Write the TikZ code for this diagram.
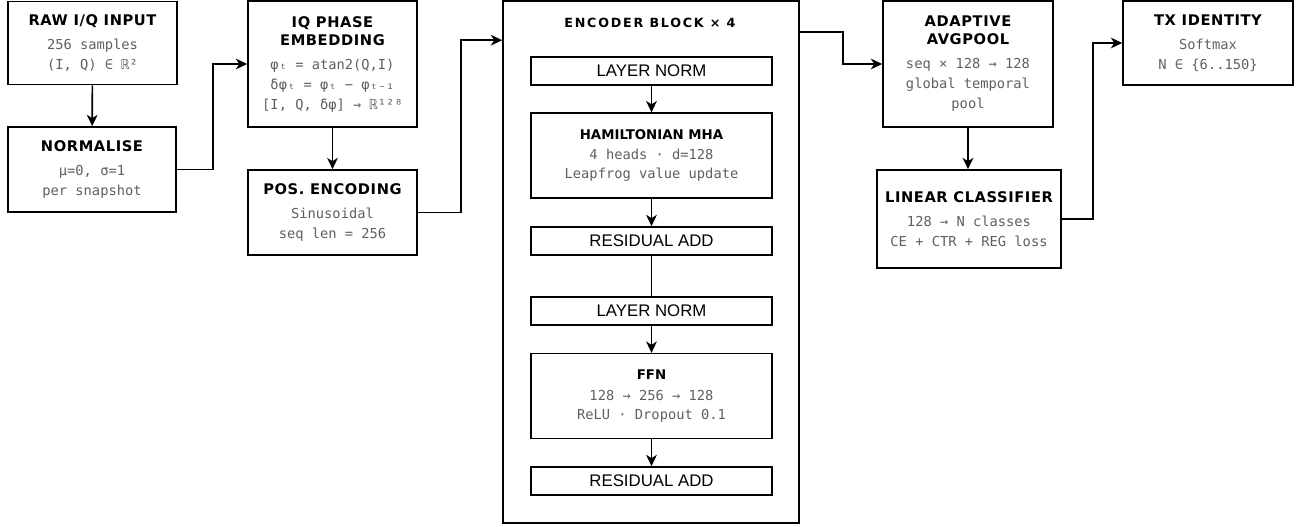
\documentclass[tikz,border=0pt]{standalone}
\usepackage{fontspec}
\usetikzlibrary{positioning,arrows.meta}
\newfontfamily\ttlfont[LetterSpace=4]{DejaVu Sans Bold}
\newfontfamily\enctfont[LetterSpace=14]{DejaVu Sans Bold}
\newfontfamily\itlfont{DejaVu Sans Bold}
\newfontfamily\monofont{DejaVu Sans Mono}
\newfontfamily\lblfont{Liberation Sans}
\definecolor{txtgray}{HTML}{5F5F5F}
\newcommand{\ttl}[1]{{\color{black}\ttlfont\fontsize{11}{13}\selectfont #1}}
\newcommand{\itl}[1]{{\color{black}\itlfont\fontsize{10}{12}\selectfont #1}}
\tikzset{
    blk/.style={draw, line width=1.2pt, align=center, inner sep=0pt, text=txtgray,
        font=\monofont\fontsize{10.3}{15}\selectfont},
    subblk/.style={blk, minimum width=180.75pt, minimum height=63.5pt,
        font=\monofont\fontsize{10.3}{14}\selectfont},
    sub/.style={draw, line width=1.2pt, minimum width=180.75pt, minimum height=21pt,
        inner sep=0pt, font=\lblfont\fontsize{12.6}{14}\selectfont},
    arr/.style={line width=1.2pt, -{Stealth[length=8.5pt,width=8pt,inset=2.5pt]}},
    con/.style={line width=1.2pt},
}
\begin{document}
\begin{tikzpicture}[x=0.75pt, y=-0.75pt]
    \useasboundingbox (0,0) rectangle (1304,527);

    % Input column
    \node[blk, minimum width=126.75pt, minimum height=62.25pt] (raw) at (92.5,43)
        {\ttl{RAW I/Q INPUT}\\[3pt] 256 samples\\ (I, Q) ∈ ℝ²};
    \node[blk, minimum width=126pt, minimum height=63.75pt] (norm) at (92,169.5)
        {\ttl{NORMALISE}\\[3pt] μ=0, σ=1\\ per snapshot};

    % Embedding column
    \node[blk, minimum width=126.75pt, minimum height=94.5pt] (iq) at (332.5,64)
        {\ttl{IQ PHASE}\\[-1.5pt] \ttl{EMBEDDING}\\[3pt] φₜ = atan2(Q,I)\\ δφₜ = φₜ − φₜ₋₁\\ {[}I, Q, δφ{]} → ℝ¹²⁸};
    \node[blk, minimum width=126.75pt, minimum height=63.75pt] (pos) at (332.5,212.5)
        {\ttl{POS. ENCODING}\\[3pt] Sinusoidal\\ seq len = 256};

    % Encoder block
    \node[draw, line width=1.2pt, minimum width=222pt, minimum height=391.5pt] (enc) at (651,262) {};
    \node[font=\enctfont\fontsize{9.5}{11}\selectfont, inner sep=0pt] (enct) at (650,23) {ENCODER BLOCK × 4};
    \node[sub] (ln1) at (651.5,71) {LAYER NORM};
    \node[subblk] (mha) at (651.5,155.5)
        {\itl{HAMILTONIAN MHA}\\[1.5pt] 4 heads · d=128\\ Leapfrog value update};
    \node[sub] (ra1) at (651.5,241) {RESIDUAL ADD};
    \node[sub] (ln2) at (651.5,311) {LAYER NORM};
    \node[subblk] (ffn) at (651.5,396)
        {\itl{FFN}\\[1.5pt] 128 → 256 → 128\\ ReLU · Dropout 0.1};
    \node[sub] (ra2) at (651.5,481) {RESIDUAL ADD};

    % Output column
    \node[blk, minimum width=127.5pt, minimum height=94.5pt] (pool) at (968,64)
        {\ttl{ADAPTIVE}\\[-1.5pt] \ttl{AVGPOOL}\\[3pt] seq × 128 → 128\\ global temporal\\ pool};
    \node[blk, minimum width=138pt, minimum height=73.5pt] (lin) at (969,219)
        {\ttl{LINEAR CLASSIFIER}\\[3pt] 128 → N classes\\ CE + CTR + REG loss};
    \node[blk, minimum width=127.5pt, minimum height=63pt] (tx) at (1208,43)
        {\ttl{TX IDENTITY}\\[3pt] Softmax\\ N ∈ \{6..150\}};

    % Connectors
    \draw[arr] (raw) -- (norm);
    \draw[arr] (norm.east) -- ++(36,0) |- (iq.west);
    \draw[arr] (iq) -- (pos);
    \draw[arr] (pos.east) -- ++(43,0) |- ([yshift=-30pt]enc.north west);
    \draw[arr] ([yshift=-24pt]enc.north east) -- ++(43,0) |- (pool.west);
    \draw[arr] (pool.south) -- (pool.south |- lin.north);
    \draw[arr] (lin.east) -- ++(31,0) |- (tx.west);

    % Inside the encoder
    \draw[arr] (ln1) -- (mha);
    \draw[arr] (mha) -- (ra1);
    \draw[con] (ra1) -- (ln2);
    \draw[arr] (ln2) -- (ffn);
    \draw[arr] (ffn) -- (ra2);
\end{tikzpicture}
\end{document}
